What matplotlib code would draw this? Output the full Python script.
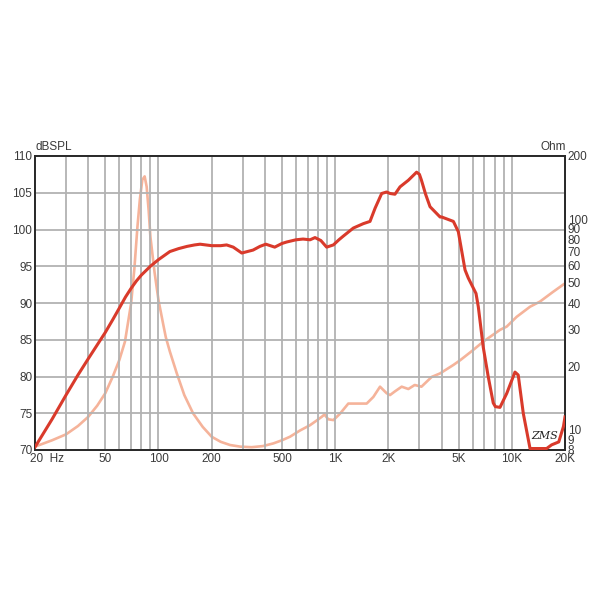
import matplotlib
matplotlib.use("Agg")
import matplotlib.pyplot as plt
from matplotlib.ticker import FixedLocator, NullLocator
from matplotlib.transforms import ScaledTranslation

plt.rcParams['font.family'] = ['Liberation Sans', 'DejaVu Sans']

# SPL response (dB) vs frequency (Hz)
spl_freq = [20, 25, 30, 35, 40, 45, 50, 55, 60, 65, 70, 75, 80, 90, 100, 116, 130, 145, 160,
            172, 200, 225, 243, 265, 296, 343, 375, 405, 455, 500, 532, 600, 658, 721, 769,
            830, 895, 977, 1050, 1112, 1268, 1445, 1575, 1683, 1834, 1955, 2045, 2180, 2329,
            2596, 2891, 3000, 3080, 3250, 3444, 3925, 4010, 4670, 4980, 5435, 5670, 6270,
            6460, 6890, 7350, 7850, 8070, 8570, 9360, 10420, 10870, 11610, 12680, 13500,
            15740, 16800, 18440, 19600, 20000]
spl_db = [70.4, 74.2, 77.5, 80.2, 82.4, 84.3, 86.0, 87.7, 89.3, 90.8, 92.0, 93.0, 93.8, 95.0,
          95.9, 97.0, 97.4, 97.7, 97.9, 98.0, 97.8, 97.8, 97.9, 97.6, 96.8, 97.2, 97.7,
          98.0, 97.6, 98.1, 98.3, 98.6, 98.7, 98.6, 98.9, 98.5, 97.6, 97.9, 98.6, 99.1,
          100.2, 100.8, 101.1, 102.9, 104.9, 105.1, 104.9, 104.8, 105.8, 106.7, 107.8,
          107.5, 106.7, 104.8, 103.1, 101.7, 101.7, 101.1, 99.7, 94.5, 93.4, 91.3, 89.5,
          84.0, 80.0, 76.4, 75.9, 75.8, 77.7, 80.6, 80.2, 75.0, 70.2, 70.2, 70.2, 70.7,
          71.1, 73.2, 74.5]

# Impedance (Ohm) vs frequency (Hz)
imp_freq = [20, 25, 30, 35, 40, 45, 50, 55, 60, 64.6, 70, 73, 76, 78.5, 81, 83.5, 85.7, 88,
            90, 95, 100, 106.5, 110, 116, 127, 140, 157, 178, 200, 225, 254, 290, 337, 390,
            447, 500, 555, 632, 721, 780, 839, 870, 914, 977, 1065, 1187, 1324, 1508, 1645,
            1795, 1955, 2045, 2180, 2380, 2596, 2820, 3080, 3516, 3925, 4670, 5110, 6040,
            6890, 8570, 9360, 10660, 12680, 14420, 17000, 20000]
imp_ohm = [8.3, 8.9, 9.5, 10.4, 11.5, 13.0, 14.9, 17.8, 21.4, 26.2, 39.9, 58, 92, 125, 154,
           160, 143, 110, 82.6, 56, 41.3, 31.5, 27.5, 23.5, 18.5, 14.6, 11.95, 10.3, 9.25,
           8.75, 8.45, 8.3, 8.25, 8.35, 8.6, 8.9, 9.25, 9.9, 10.5, 11.0, 11.5, 11.8, 11.2,
           11.1, 11.9, 13.3, 13.3, 13.3, 14.3, 16.0, 14.9, 14.6, 15.2, 16.0, 15.6, 16.3,
           16.0, 17.8, 18.5, 20.3, 21.4, 23.9, 26.2, 29.8, 30.9, 34.4, 38.4, 40.6, 45.0,
           49.6]

x_ticks = [20, 50, 100, 200, 500, 1000, 2000, 5000, 10000, 20000]
x_labels = ["20  Hz", "50", "100", "200", "500", "1K", "2K", "5K", "10K", "20K"]
y_ticks = [70, 75, 80, 85, 90, 95, 100, 105, 110]
ohm_ticks = [8, 9, 10, 20, 30, 40, 50, 60, 70, 80, 90, 100, 200]

txt = "#3a3a3a"
grid_c = "#b2b2b2"
spl_c = "#d93a2b"
imp_c = "#f5b39a"

fig = plt.figure(figsize=(6, 6), dpi=100)
ax = fig.add_axes([35/600, 150/600, 530/600, 294/600])
ax.set_xscale("log")
ax.set_xlim(20, 20000)
ax.set_ylim(70, 110)

# grid
minor = []
for dec in [10, 100, 1000, 10000]:
    for m in range(1, 10):
        v = dec * m
        if 20 <= v <= 20000:
            minor.append(v)
for v in minor:
    ax.axvline(v, color=grid_c, lw=1.3, zorder=0)
for v in y_ticks:
    ax.axhline(v, color=grid_c, lw=1.3, zorder=0)

ax.xaxis.set_major_locator(FixedLocator(x_ticks))
ax.xaxis.set_minor_locator(NullLocator())
ax.set_xticklabels(x_labels)
ax.set_yticks(y_ticks)
ax.set_yticklabels([str(v) for v in y_ticks])
ax.tick_params(axis="both", length=0, labelsize=8.5, colors=txt, pad=2)
first = ax.get_xticklabels()[0]
first.set_horizontalalignment("left")
first.set_transform(first.get_transform() + ScaledTranslation(-5/100, 0, fig.dpi_scale_trans))

ax2 = ax.twinx()
ax2.set_yscale("log")
ax2.set_ylim(8, 200)
ax2.yaxis.set_major_locator(FixedLocator(ohm_ticks))
ax2.yaxis.set_minor_locator(NullLocator())
ax2.set_yticklabels([str(v) for v in ohm_ticks])
ax2.tick_params(axis="y", length=0, labelsize=8.5, colors=txt, pad=2)

ax2.plot(imp_freq, imp_ohm, color=imp_c, lw=1.9, zorder=2, solid_joinstyle="round")
ax.set_zorder(ax2.get_zorder() + 1)
ax.patch.set_visible(False)
ax.plot(spl_freq, spl_db, color=spl_c, lw=2.2, zorder=3, solid_joinstyle="round")

for a in (ax, ax2):
    for s in a.spines.values():
        s.set_color("#2a2a2a")
        s.set_linewidth(1.4)

fig.text(35/600, 1 - 147/600, "dBSPL", fontsize=8.5, color=txt, ha="left", va="center")
fig.text(566/600, 1 - 147/600, "Ohm", fontsize=8.5, color=txt, ha="right", va="center")
ax.text(15300, 71.9, "ZMS", fontsize=8, style="italic", color="#222222", ha="center",
        va="center", family="DejaVu Serif")

fig.savefig("out.png", dpi=100, facecolor="white")
